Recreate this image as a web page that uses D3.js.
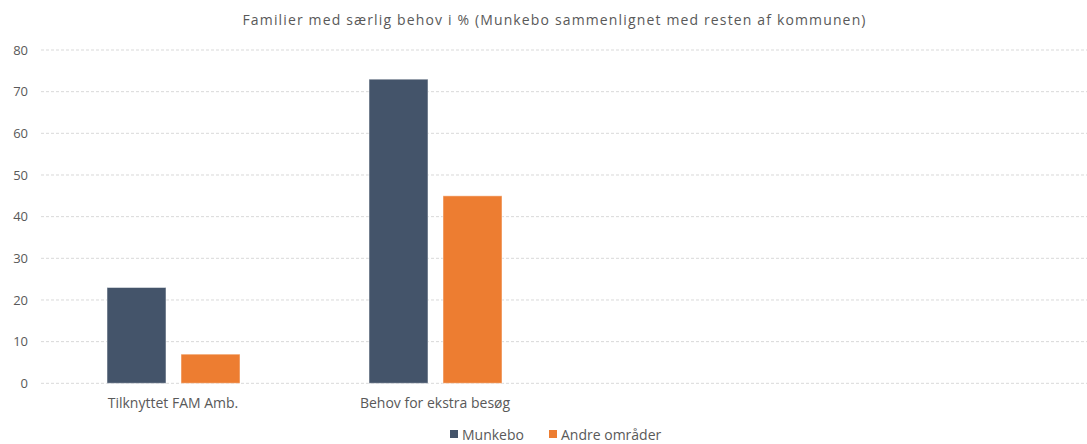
<!DOCTYPE html>
<html lang="da">
<head>
<meta charset="utf-8">
<title>Familier med særlig behov</title>
<script src="https://d3js.org/d3.v7.min.js"></script>
<style>
  body { margin: 0; background: #fff; }
  svg text { font-family: "Open Sans", "Liberation Sans", sans-serif; fill: #595959; }
</style>
</head>
<body>
<svg id="chart" width="1087" height="444"></svg>
<script>
// data
const categories = ["Tilknyttet FAM Amb.", "Behov for ekstra besøg", "", " "];
const seriesNames = ["Munkebo", "Andre områder"];
const munkebo = [23, 73, null, null];
const andre = [7, 45, null, null];
const yTicks = [0, 10, 20, 30, 40, 50, 60, 70, 80];
const title = "Familier med særlig behov i % (Munkebo sammenlignet med resten af kommunen)";

const colors = ["#44546a", "#ed7d31"];
const svg = d3.select("#chart");

const x = d3.scaleBand().domain(categories).range([42, 1090]);
// group of two bars, 59px each with a 15px gap
const xs = d3.scaleBand().domain(seriesNames).range([65, 198]).paddingInner(15 / 74);
const y = d3.scaleLinear().domain([0, 80]).range([383.3, 50]);

// gridlines
svg.append("g").selectAll("line").data(yTicks).enter().append("line")
    .attr("x1", 41).attr("x2", 1087)
    .attr("y1", d => y(d)).attr("y2", d => y(d))
    .attr("stroke", "#d9d9d9").attr("stroke-dasharray", "3,2");

// y axis labels
const yAxis = d3.axisLeft(y).tickValues(yTicks).tickSize(0).tickPadding(0);
const ya = svg.append("g").attr("transform", "translate(28,0)").call(yAxis);
ya.select(".domain").remove();
ya.selectAll("text").style("font-size", "13px").attr("fill", "#595959");

// bars
const rows = categories.map((c, i) => ({ cat: c, vals: [munkebo[i], andre[i]] }));
const groups = svg.append("g").selectAll("g").data(rows).enter().append("g")
    .attr("transform", d => "translate(" + x(d.cat) + ",0)");
groups.selectAll("rect")
    .data(d => d.vals.map((v, j) => ({ name: seriesNames[j], v: v, j: j })).filter(e => e.v != null))
    .enter().append("rect")
    .attr("x", d => xs(d.name))
    .attr("width", xs.bandwidth())
    .attr("y", d => y(d.v))
    .attr("height", d => y(0) - y(d.v))
    .attr("fill", d => colors[d.j])
    .attr("stroke", "#ffffff").attr("stroke-opacity", 0.5).attr("stroke-width", 1);

// x axis labels
const xAxis = d3.axisBottom(x).tickSize(0).tickPadding(0);
const xa = svg.append("g").attr("transform", "translate(0,398)").call(xAxis);
xa.select(".domain").remove();
xa.selectAll("text").style("font-size", "14px").attr("fill", "#595959");

// title
svg.append("text").attr("x", 554).attr("y", 25).attr("text-anchor", "middle")
    .style("font-size", "14px").attr("fill", "#7a7a7a")
    .attr("textLength", 623).attr("lengthAdjust", "spacing").text(title);

// legend
const legendX = [450, 549];
const lg = svg.append("g").selectAll("g").data(seriesNames).enter().append("g")
    .attr("transform", (d, i) => "translate(" + legendX[i] + ",430)");
lg.append("rect").attr("width", 8).attr("height", 8).attr("fill", (d, i) => colors[i]);
lg.append("text").attr("x", 12).attr("y", 9.5).style("font-size", "14px").text(d => d);
</script>
</body>
</html>
